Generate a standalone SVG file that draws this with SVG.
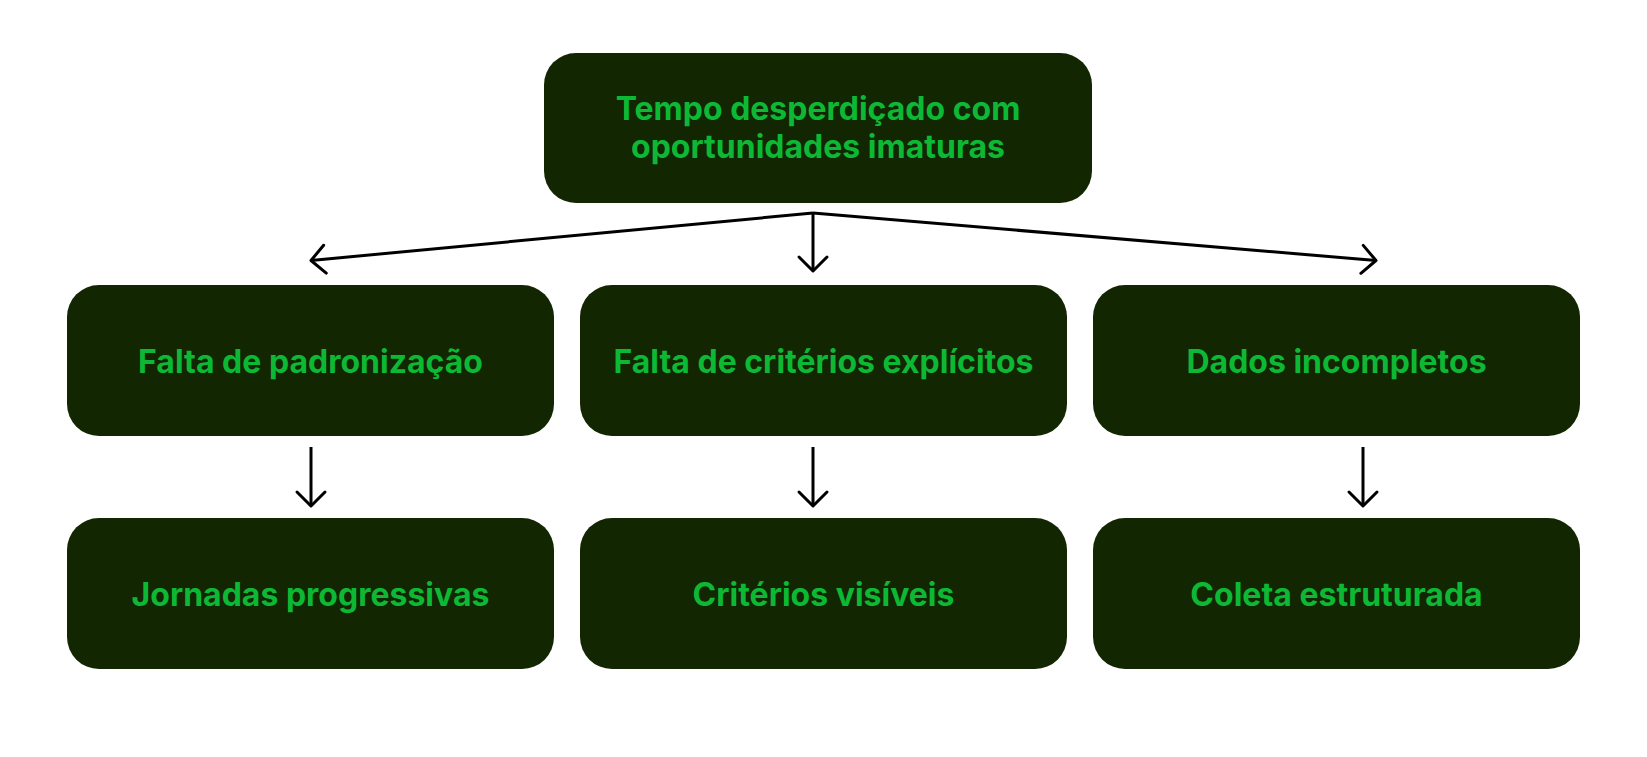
<svg xmlns="http://www.w3.org/2000/svg" width="1647" height="757" viewBox="0 0 1647 757">
<style>
.box{fill:#132602}
.lbl{fill:#0DB834;font-family:Inter,"Liberation Sans",sans-serif;font-weight:700;font-size:32px;text-anchor:middle}
.edge{stroke:#000;stroke-width:3;fill:none}
</style>
<defs>
<marker id="arr" markerUnits="userSpaceOnUse" markerWidth="40" markerHeight="40" viewBox="-20 -20 40 40" refX="0" refY="0" orient="auto">
<path d="M-14,-14 L0,0 L-14,14" fill="none" stroke="#000" stroke-width="3" stroke-linecap="round" stroke-linejoin="round"/>
</marker>
</defs>
<rect width="1647" height="757" fill="#fff"/>
<g id="connectors">
<path class="edge" d="M813,213 L311,260.5" marker-end="url(#arr)"/>
<path class="edge" d="M813,213 L813,271" marker-end="url(#arr)"/>
<path class="edge" d="M813,213 L1376,260.5" marker-end="url(#arr)"/>
<path class="edge" d="M311,447 L311,506" marker-end="url(#arr)"/>
<path class="edge" d="M813,447 L813,506" marker-end="url(#arr)"/>
<path class="edge" d="M1363,447 L1363,506" marker-end="url(#arr)"/>
</g>
<g id="n0"><rect class="box" x="544" y="53" width="548" height="150" rx="32"/>
<text class="lbl" x="818" y="120">Tempo desperdiçado com</text>
<text class="lbl" x="818" y="158">oportunidades imaturas</text></g>
<g id="n1"><rect class="box" x="67" y="285" width="487" height="151" rx="32"/>
<text class="lbl" x="310.5" y="372.5">Falta de padronização</text></g>
<g id="n2"><rect class="box" x="580" y="285" width="487" height="151" rx="32"/>
<text class="lbl" x="823.5" y="372.5">Falta de critérios explícitos</text></g>
<g id="n3"><rect class="box" x="1093" y="285" width="487" height="151" rx="32"/>
<text class="lbl" x="1336.5" y="372.5">Dados incompletos</text></g>
<g id="n4"><rect class="box" x="67" y="518" width="487" height="151" rx="32"/>
<text class="lbl" x="310.5" y="605.5">Jornadas progressivas</text></g>
<g id="n5"><rect class="box" x="580" y="518" width="487" height="151" rx="32"/>
<text class="lbl" x="823.5" y="605.5">Critérios visíveis</text></g>
<g id="n6"><rect class="box" x="1093" y="518" width="487" height="151" rx="32"/>
<text class="lbl" x="1336.5" y="605.5">Coleta estruturada</text></g>
</svg>
